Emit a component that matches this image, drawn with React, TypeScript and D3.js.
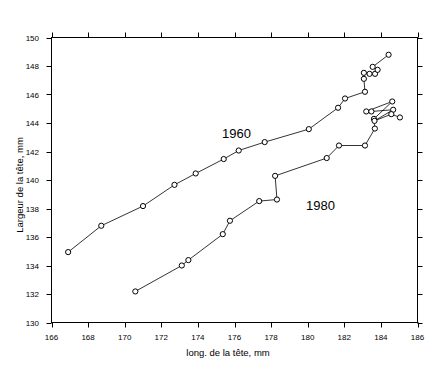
import React from "react";
import * as d3 from "d3";

const xTicks = [166, 168, 170, 172, 174, 176, 178, 180, 182, 184, 186];
const yTicks = [130, 132, 134, 136, 138, 140, 142, 144, 146, 148, 150];

const x1960 = [166.91, 168.72, 171.0, 172.72, 173.88, 175.41, 176.23, 177.65, 180.06, 181.66, 182.04, 183.13, 183.07, 183.07, 183.38, 183.68, 183.82, 183.55, 184.42];
const y1960 = [134.94, 136.79, 138.17, 139.66, 140.46, 141.47, 142.07, 142.66, 143.57, 145.07, 145.72, 146.19, 147.1, 147.52, 147.45, 147.45, 147.73, 147.94, 148.79];

const x1980 = [170.58, 173.12, 173.48, 175.36, 175.75, 177.35, 178.32, 178.22, 181.04, 181.71, 183.13, 183.67, 183.62, 184.62, 183.2, 183.48, 184.67, 183.65, 184.57, 185.04];
const y1980 = [132.18, 134.0, 134.38, 136.2, 137.14, 138.52, 138.63, 140.29, 141.54, 142.42, 142.42, 143.61, 144.29, 145.51, 144.81, 144.81, 144.93, 144.15, 144.62, 144.39];

const seriesLabels = ["1960", "1980"];
const xTitle = "long. de la tête, mm";
const yTitle = "Largeur de la tête, mm";

export default function App() {
  const left = 51.5, right = 417.5, top = 37.5, bottom = 322.5;
  const x = d3.scaleLinear().domain([166, 186]).range([left, right]);
  const y = d3.scaleLinear().domain([130, 150]).range([bottom, top]);
  const line = d3.line<[number, number]>().x((d) => x(d[0])).y((d) => y(d[1]));
  const s1: [number, number][] = x1960.map((v, i) => [v, y1960[i]]);
  const s2: [number, number][] = x1980.map((v, i) => [v, y1980[i]]);
  const tickFont = { fontFamily: "Liberation Sans, Arial, sans-serif", fontSize: 8 };
  const tl = 5;
  return (
    <svg width={442} height={374} style={{ position: "absolute", left: 0, top: 0, background: "#fff" }}>
      <rect x={0} y={0} width={442} height={374} fill="#fff" />
      <g stroke="#000" strokeWidth={1} fill="none">
        <rect x={left} y={top} width={right - left} height={bottom - top} />
        {xTicks.map((t) => (
          <g key={"xt" + t}>
            <line x1={Math.round(x(t)) + 0.5} x2={Math.round(x(t)) + 0.5} y1={bottom} y2={bottom + tl} />
            <line x1={Math.round(x(t)) + 0.5} x2={Math.round(x(t)) + 0.5} y1={top} y2={top - tl} />
          </g>
        ))}
        {yTicks.map((t) => (
          <g key={"yt" + t}>
            <line y1={Math.round(y(t)) + 0.5} y2={Math.round(y(t)) + 0.5} x1={left} x2={left - tl} />
            <line y1={Math.round(y(t)) + 0.5} y2={Math.round(y(t)) + 0.5} x1={right} x2={right + tl} />
          </g>
        ))}
      </g>
      {xTicks.map((t) => (
        <text key={"xl" + t} x={x(t)} y={340} textAnchor="middle" style={tickFont}>
          {t}
        </text>
      ))}
      {yTicks.map((t) => (
        <text key={"yl" + t} x={39} y={y(t) + 3} textAnchor="end" style={tickFont}>
          {t}
        </text>
      ))}
      <text x={228} y={356} textAnchor="middle" style={{ fontFamily: "Liberation Sans, Arial, sans-serif", fontSize: 9.5 }}>
        {xTitle}
      </text>
      <text
        transform={`translate(23,185) rotate(-90)`}
        textAnchor="middle"
        style={{ fontFamily: "Liberation Sans, Arial, sans-serif", fontSize: 9.5 }}
      >
        {yTitle}
      </text>
      <path d={line(s1) || ""} fill="none" stroke="#000" strokeWidth={0.8} />
      <path d={line(s2) || ""} fill="none" stroke="#000" strokeWidth={0.8} />
      {s1.map((d, i) => (
        <circle key={"a" + i} cx={x(d[0])} cy={y(d[1])} r={2.6} fill="#fff" stroke="#000" strokeWidth={1} />
      ))}
      {s2.map((d, i) => (
        <circle key={"b" + i} cx={x(d[0])} cy={y(d[1])} r={2.6} fill="#fff" stroke="#000" strokeWidth={1} />
      ))}
      <text x={222} y={138} style={{ fontFamily: "Liberation Sans, Arial, sans-serif", fontSize: 13 }}>
        {seriesLabels[0]}
      </text>
      <text x={306} y={210} style={{ fontFamily: "Liberation Sans, Arial, sans-serif", fontSize: 13 }}>
        {seriesLabels[1]}
      </text>
    </svg>
  );
}
